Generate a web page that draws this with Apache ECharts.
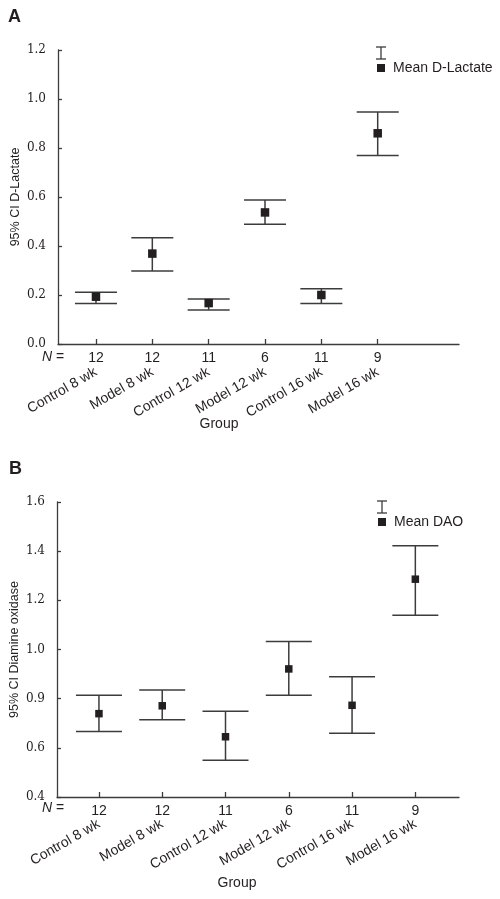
<!DOCTYPE html>
<html>
<head>
<meta charset="utf-8">
<script src="https://cdn.jsdelivr.net/npm/echarts@6/dist/echarts.min.js"></script>
<style>
  html, body { margin: 0; padding: 0; background: #fff; }
  #chart { width: 500px; height: 899px; }
</style>
</head>
<body>
<div id="chart"></div>
<script>
// ---------- data ----------
const groups = ['Control 8 wk', 'Model 8 wk', 'Control 12 wk', 'Model 12 wk', 'Control 16 wk', 'Model 16 wk'];
const nValues = ['12', '12', '11', '6', '11', '9'];

// Panel A: D-Lactate
const lactateMean  = [0.193, 0.369, 0.167, 0.537, 0.200, 0.860];
const lactateLower = [0.165, 0.298, 0.139, 0.489, 0.165, 0.769];
const lactateUpper = [0.211, 0.434, 0.184, 0.588, 0.226, 0.947];
const yTicksA = ['0.0', '0.2', '0.4', '0.6', '0.8', '1.0', '1.2'];

// Panel B: Diamine oxidase
const daoMean  = [0.739, 0.771, 0.645, 0.921, 0.773, 1.286];
const daoLower = [0.666, 0.714, 0.549, 0.814, 0.659, 1.139];
const daoUpper = [0.814, 0.835, 0.749, 1.033, 0.889, 1.422];
const yTicksB = ['0.4', '0.6', '0.9', '1.0', '1.2', '1.4', '1.6'];

// ---------- helpers ----------
const INK = '#231f20';
const LINE = '#3c3c3c';
const SANS = 'Liberation Sans';
const SERIF = 'DejaVu Serif';
const positions = groups.map((g, i) => i + 1);

function ciData(lower, upper) {
  return positions.map((x, i) => [x, lower[i], upper[i]]);
}
function meanData(mean) {
  return positions.map((x, i) => [x, mean[i]]);
}
function makeRender(capHalf) {
  return function (params, api) {
    const x = api.value(0);
    const lo = api.coord([x, api.value(1)]);
    const hi = api.coord([x, api.value(2)]);
    const style = { stroke: LINE, lineWidth: 1.5, fill: null };
    return {
      type: 'group',
      children: [
        { type: 'line', shape: { x1: lo[0], y1: lo[1], x2: hi[0], y2: hi[1] }, style },
        { type: 'line', shape: { x1: hi[0] - capHalf, y1: hi[1], x2: hi[0] + capHalf, y2: hi[1] }, style },
        { type: 'line', shape: { x1: lo[0] - capHalf, y1: lo[1], x2: lo[0] + capHalf, y2: lo[1] }, style }
      ]
    };
  };
}
function xAxes(gridIndex, min, max, groupMargin) {
  return [
    {
      type: 'value', gridIndex, min, max, position: 'bottom',
      splitLine: { show: false },
      axisLine: { show: true, lineStyle: { color: LINE, width: 1.3 } },
      axisTick: { show: true, inside: true, length: 5, customValues: positions, lineStyle: { color: LINE, width: 1.3 } },
      axisLabel: {
        customValues: positions, margin: 7, color: INK, fontFamily: SANS, fontSize: 14,
        formatter: v => nValues[Math.round(v) - 1]
      }
    },
    {
      type: 'value', gridIndex, min, max, position: 'bottom',
      splitLine: { show: false },
      axisLine: { show: false }, axisTick: { show: false },
      axisLabel: {
        customValues: positions, margin: groupMargin, rotate: 30, color: INK, fontFamily: SANS, fontSize: 14,
        formatter: v => groups[Math.round(v) - 1]
      }
    }
  ];
}
function yAxis(gridIndex, min, max, labels, name) {
  return {
    type: 'value', gridIndex, min, max, interval: 0.2,
    name, nameLocation: 'middle', nameGap: 36, nameRotate: 90, nameMoveOverlap: false,
    nameTextStyle: { color: INK, fontFamily: SANS, fontSize: 12.5 },
    splitLine: { show: false },
    axisLine: { show: true, lineStyle: { color: LINE, width: 1.3 } },
    axisTick: { show: true, inside: true, length: 4, lineStyle: { color: LINE, width: 1.3 } },
    axisLabel: {
      margin: 12, color: INK, fontFamily: SERIF, fontSize: 12,
      formatter: v => labels[Math.round((v - min) / 0.2)]
    }
  };
}
function legendGraphic(x, y, text) {
  const s = { stroke: LINE, lineWidth: 1.3 };
  return [
    { type: 'line', shape: { x1: x, y1: y, x2: x + 10, y2: y }, style: s },
    { type: 'line', shape: { x1: x + 5, y1: y, x2: x + 5, y2: y + 12 }, style: s },
    { type: 'line', shape: { x1: x, y1: y + 12, x2: x + 10, y2: y + 12 }, style: s },
    { type: 'rect', shape: { x: x + 1, y: y + 17, width: 8, height: 8 }, style: { fill: INK } },
    { type: 'text', x: x + 17, y: y + 21, style: { text, fill: INK, font: '14px "Liberation Sans"', verticalAlign: 'middle' } }
  ];
}
function textG(x, y, text, font, align) {
  return { type: 'text', x, y, style: { text, fill: INK, font, align: align || 'left', verticalAlign: 'middle' } };
}
function nLabel(x, y) {
  return {
    type: 'text', x, y,
    style: {
      text: '{i|N} =', fill: INK, verticalAlign: 'middle',
      rich: { i: { fontStyle: 'italic', fontFamily: SANS, fontSize: 14, fill: INK } },
      fontFamily: SANS, fontSize: 14
    }
  };
}

const chart = echarts.init(document.getElementById('chart'), null, { renderer: 'canvas' });
chart.setOption({
  backgroundColor: '#fff',
  animation: false,
  grid: [
    { left: 58, top: 50, right: 41, bottom: 555, containLabel: false, outerBoundsMode: 'none' },
    { left: 57, top: 502, right: 41, bottom: 102, containLabel: false, outerBoundsMode: 'none' }
  ],
  xAxis: [].concat(xAxes(0, 0.326, 7.443, 27), xAxes(1, 0.337, 6.69, 26)),
  yAxis: [
    yAxis(0, 0, 1.2, yTicksA, '95% CI D-Lactate'),
    yAxis(1, 0.4, 1.6, yTicksB, '95% CI Diamine oxidase')
  ],
  series: [
    { type: 'custom', xAxisIndex: 0, yAxisIndex: 0, renderItem: makeRender(21), data: ciData(lactateLower, lactateUpper), z: 2 },
    { type: 'scatter', name: 'Mean D-Lactate', xAxisIndex: 0, yAxisIndex: 0, symbol: 'rect', symbolSize: 8.5,
      itemStyle: { color: INK, opacity: 1 }, data: meanData(lactateMean), z: 3 },
    { type: 'custom', xAxisIndex: 2, yAxisIndex: 1, renderItem: makeRender(23), data: ciData(daoLower, daoUpper), z: 2 },
    { type: 'scatter', name: 'Mean DAO', xAxisIndex: 2, yAxisIndex: 1, symbol: 'rect', symbolSize: 7.5,
      itemStyle: { color: INK, opacity: 1 }, data: meanData(daoMean), z: 3 }
  ],
  graphic: [].concat(
    [textG(8, 17, 'A', 'bold 18px "Liberation Sans"'), textG(9, 469, 'B', 'bold 18px "Liberation Sans"')],
    legendGraphic(376, 47, 'Mean D-Lactate'),
    legendGraphic(377, 501, 'Mean DAO'),
    [nLabel(42, 357), nLabel(42, 808)],
    [textG(219, 424, 'Group', '14px "Liberation Sans"', 'center'), textG(237, 883, 'Group', '14px "Liberation Sans"', 'center')]
  )
});
</script>
</body>
</html>
